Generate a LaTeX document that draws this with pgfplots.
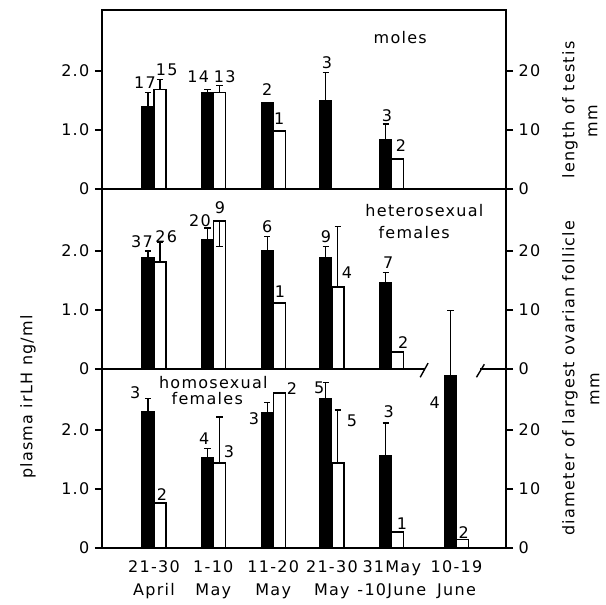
\documentclass[border=0pt]{standalone}
\usepackage{fontspec}
\setmainfont{DejaVu Sans}[LetterSpace=8]
\usepackage{pgfplots}
\pgfplotsset{compat=1.18}
% one panel = one axis for plasma LH (left) + one overlay axis in mm (right)
\pgfplotsset{
  panel/.style={at={(51pt,#1)}, anchor=south west, scale only axis,
    width=202pt, xmin=0.14, xmax=6.818, ymin=0, xtick=\empty,
    tick align=outside, major tick length=3.5pt,
    axis line style={line width=0.8pt}, tick style={line width=0.8pt, black},
    clip=false},
  lh/.style={ytick={0,1,2}, yticklabels={0,1.0,2.0}, ytick pos=left},
  mm/.style={axis x line=none, axis y line*=right,
    ytick={0,10,20}, yticklabels={0,10,20}},
  blk/.style={ybar, bar width=6pt, bar shift=-3pt, fill=black, draw=black,
    line width=0.6pt,
    error bars/.cd, y dir=plus, y explicit,
    error bar style={line width=0.6pt, xshift=-3pt},
    error mark options={rotate=90, mark size=1.6pt, line width=0.6pt}},
  wht/.style={ybar, bar width=6pt, bar shift=3pt, fill=white, draw=black,
    line width=0.7pt,
    error bars/.cd, y dir=both, y explicit,
    error bar style={line width=0.6pt, xshift=3pt},
    error mark options={rotate=90, mark size=1.6pt, line width=0.6pt}},
}
\tikzset{n/.style={inner sep=0pt}}
\begin{document}
\fontsize{8}{10}\selectfont
\begin{tikzpicture}
% ---------- males ----------
\begin{axis}[panel=208pt, height=89.5pt, ymax=3.034, lh]
\addplot[blk] coordinates {(1,1.39) +- (0,0.24) (1.98,1.63) +- (0,0.06)
  (2.97,1.46) (3.94,1.49) +- (0,0.48) (4.93,0.83) +- (0,0.27)};
\node[n] at (axis cs:0.85,1.81) {17};
\node[n] at (axis cs:1.21,2.02) {15};
\node[n] at (axis cs:1.73,1.90) {14};
\node[n] at (axis cs:2.17,1.90) {13};
\node[n] at (axis cs:2.87,1.68) {2};
\node[n] at (axis cs:3.07,1.20) {1};
\node[n] at (axis cs:3.86,2.14) {3};
\node[n] at (axis cs:4.85,1.25) {3};
\node[n] at (axis cs:5.08,0.73) {2};
\node[n] at (axis cs:5.07,2.56) {moles};
\end{axis}
\begin{axis}[panel=208pt, height=89.5pt, ymax=30.34, mm]
\addplot[wht] coordinates {(1,16.9) += (0,1.6) (1.98,16.4) += (0,1.1)
  (2.97,9.8) (4.93,5.1)};
\end{axis}
% ---------- heterosexual females ----------
\begin{axis}[panel=118pt, height=90pt, ymax=3.05, lh,
  axis x line=none, axis y line*=left]
\addplot[blk] coordinates {(1,1.88) +- (0,0.12) (1.98,2.20) +- (0,0.19)
  (2.97,2.00) +- (0,0.24) (3.94,1.88) +- (0,0.19) (4.93,1.46) +- (0,0.17)};
\draw[line width=0.8pt] (axis cs:0.14,0) -- (axis cs:5.48,0);
\draw[line width=0.8pt] (axis cs:6.39,0) -- (axis cs:6.818,0);
\draw[line width=0.7pt] (axis cs:5.40,-0.14) -- (axis cs:5.53,0.10);
\draw[line width=0.7pt] (axis cs:6.33,-0.14) -- (axis cs:6.46,0.08);
\node[n] at (axis cs:0.80,2.15) {37};
\node[n] at (axis cs:1.20,2.25) {26};
\node[n] at (axis cs:1.76,2.51) {20};
\node[n] at (axis cs:2.09,2.73) {9};
\node[n] at (axis cs:2.87,2.41) {6};
\node[n] at (axis cs:3.08,1.31) {1};
\node[n] at (axis cs:3.84,2.25) {9};
\node[n] at (axis cs:4.19,1.63) {4};
\node[n] at (axis cs:4.87,1.81) {7};
\node[n] at (axis cs:5.12,0.44) {2};
\node[n] at (axis cs:5.47,2.69) {heterosexual};
\node[n] at (axis cs:5.30,2.32) {females};
\end{axis}
\begin{axis}[panel=118pt, height=90pt, ymax=30.5, mm]
\addplot[wht] coordinates {(1,18.1) += (0,3.3) (1.98,25.1) -= (0,4.4)
  (2.97,11.2) (3.94,13.9) += (0,10.2) (4.93,2.9)};
\end{axis}
% ---------- homosexual females ----------
\begin{axis}[panel=28.5pt, height=89.5pt, ymax=3.034, lh,
  axis x line*=bottom, axis y line*=left,
  xtick={1,1.98,2.97,3.94,4.93,6},
  xticklabels={{21-30\\April},{1-10\\May},{11-20\\May},{21-30\\May},{31May\\-10June},{10-19\\June}},
  major x tick style={draw=none},
  xticklabel style={align=center, font=\fontsize{8}{11.5}\selectfont}]
\addplot[blk] coordinates {(1,2.31) +- (0,0.22) (1.98,1.54) +- (0,0.15)
  (2.97,2.29) +- (0,0.17) (3.94,2.53) +- (0,0.27) (4.93,1.56) +- (0,0.56)
  (6,2.93) +- (0,1.09)};
\node[n] at (axis cs:0.69,2.63) {3};
\node[n] at (axis cs:1.13,0.90) {2};
\node[n] at (axis cs:1.83,1.86) {4};
\node[n] at (axis cs:2.24,1.64) {3};
\node[n] at (axis cs:2.65,2.19) {3};
\node[n] at (axis cs:3.28,2.71) {2};
\node[n] at (axis cs:3.73,2.71) {5};
\node[n] at (axis cs:4.27,2.15) {5};
\node[n] at (axis cs:4.88,2.31) {3};
\node[n] at (axis cs:5.10,0.42) {1};
\node[n] at (axis cs:5.64,2.47) {4};
\node[n] at (axis cs:6.12,0.27) {2};
\node[n] at (axis cs:1.98,2.81) {homosexual};
\node[n] at (axis cs:1.88,2.53) {females};
\end{axis}
\begin{axis}[panel=28.5pt, height=89.5pt, ymax=30.34, mm]
\addplot[wht] coordinates {(1,7.6) (1.98,14.4) += (0,7.8) (2.97,26.3)
  (3.94,14.4) += (0,9.0) (4.93,2.7) (6,1.4)};
\end{axis}
% axis titles
\node[rotate=90] at (14pt,104pt) {plasma irLH ng/ml};
\node[rotate=90] at (285pt,247.5pt) {length of testis};
\node[rotate=90] at (296.5pt,242pt) {mm};
\node[rotate=90] at (285pt,113.5pt) {diameter of largest ovarian follicle};
\node[rotate=90] at (297.5pt,108pt) {mm};
\pgfresetboundingbox
\path (0,0) rectangle (302.5pt,302.5pt);
\end{tikzpicture}
\end{document}
